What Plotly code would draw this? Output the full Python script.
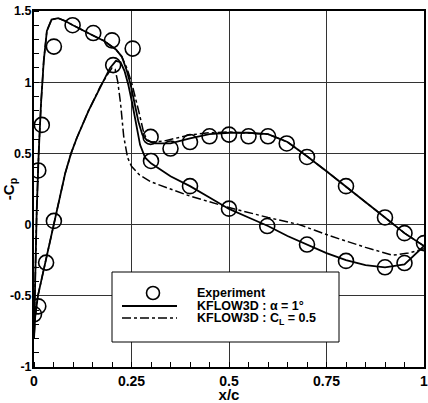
import plotly.graph_objects as go

# Experiment (upper and lower surface)
exp_x_upper = [0.011, 0.02, 0.051, 0.099, 0.152, 0.20, 0.253, 0.299, 0.35, 0.40, 0.45, 0.50, 0.55, 0.60, 0.648, 0.70, 0.80, 0.90, 0.95, 1.0]
exp_y_upper = [0.38, 0.70, 1.25, 1.40, 1.345, 1.294, 1.236, 0.616, 0.534, 0.58, 0.62, 0.632, 0.62, 0.62, 0.57, 0.475, 0.27, 0.05, -0.06, -0.13]
exp_x_lower = [0.0, 0.011, 0.031, 0.051, 0.203, 0.30, 0.40, 0.50, 0.598, 0.70, 0.80, 0.90, 0.95]
exp_y_lower = [-0.63, -0.574, -0.267, 0.026, 1.12, 0.447, 0.27, 0.112, -0.01, -0.14, -0.255, -0.30, -0.27]

# KFLOW3D alpha = 1 deg (solid)
a1_x = [1.0, 0.95, 0.9, 0.85, 0.8, 0.75, 0.7, 0.65, 0.6, 0.55, 0.5, 0.45, 0.4, 0.35, 0.31, 0.29, 0.278, 0.268, 0.258, 0.248, 0.238, 0.225, 0.21, 0.18, 0.15, 0.12, 0.1, 0.08, 0.062, 0.045, 0.033, 0.025, 0.018, 0.012, 0.007, 0.003, 0.0,
        0.003, 0.01, 0.03, 0.05, 0.065, 0.08, 0.095, 0.11, 0.14, 0.17, 0.195, 0.21, 0.222, 0.232, 0.242, 0.252, 0.262, 0.272, 0.285, 0.3, 0.35, 0.4, 0.45, 0.5, 0.55, 0.6, 0.65, 0.7, 0.75, 0.8, 0.85, 0.9, 0.95, 1.0]
a1_y = [-0.15, -0.06, 0.05, 0.16, 0.27, 0.375, 0.48, 0.58, 0.635, 0.645, 0.645, 0.635, 0.605, 0.57, 0.57, 0.59, 0.63, 0.72, 0.85, 0.98, 1.08, 1.18, 1.23, 1.29, 1.33, 1.37, 1.40, 1.43, 1.45, 1.44, 1.36, 1.15, 0.85, 0.5, 0.1, -0.4, -0.8,
        -0.65, -0.5, -0.25, 0.0, 0.19, 0.36, 0.5, 0.61, 0.8, 0.97, 1.1, 1.15, 1.14, 1.08, 0.98, 0.85, 0.7, 0.56, 0.47, 0.43, 0.34, 0.27, 0.19, 0.11, 0.05, -0.01, -0.08, -0.14, -0.2, -0.25, -0.285, -0.3, -0.28, -0.15]

# KFLOW3D CL = 0.5 (dash-dot)
cl_x = [1.0, 0.95, 0.9, 0.85, 0.8, 0.75, 0.7, 0.65, 0.6, 0.55, 0.5, 0.45, 0.4, 0.33, 0.3, 0.288, 0.28, 0.27, 0.26, 0.25, 0.238, 0.225, 0.21, 0.18, 0.15, 0.12, 0.1, 0.08, 0.062, 0.045, 0.033, 0.025, 0.018, 0.012, 0.007, 0.003, 0.0,
        0.003, 0.01, 0.03, 0.05, 0.065, 0.08, 0.095, 0.11, 0.14, 0.17, 0.19, 0.2, 0.208, 0.215, 0.222, 0.23, 0.24, 0.25, 0.27, 0.3, 0.35, 0.4, 0.45, 0.5, 0.6, 0.68, 0.72, 0.76, 0.85, 0.92, 0.96, 1.0]
cl_y = [-0.15, -0.06, 0.05, 0.16, 0.27, 0.375, 0.48, 0.58, 0.635, 0.645, 0.65, 0.645, 0.63, 0.585, 0.58, 0.6, 0.66, 0.78, 0.9, 1.0, 1.1, 1.18, 1.23, 1.29, 1.33, 1.37, 1.40, 1.43, 1.45, 1.44, 1.36, 1.15, 0.85, 0.5, 0.1, -0.4, -0.8,
        -0.65, -0.5, -0.25, 0.0, 0.19, 0.36, 0.5, 0.61, 0.8, 0.97, 1.06, 1.1, 1.09, 1.0, 0.85, 0.62, 0.47, 0.41, 0.35, 0.30, 0.25, 0.2, 0.16, 0.12, 0.05, 0.0, -0.04, -0.08, -0.16, -0.215, -0.2, -0.17]

x_ticks = [0, 0.25, 0.5, 0.75, 1]
x_tick_text = ["0", "0.25", "0.5", "0.75", "1"]
y_ticks = [-1, -0.5, 0, 0.5, 1, 1.5]
y_tick_text = ["-1", "-0.5", "0", "0.5", "1", "1.5"]
legend_labels = ["Experiment", "KFLOW3D : α = 1°", "KFLOW3D : C<sub>L</sub> = 0.5"]

FONT = "Liberation Sans, Arial, sans-serif"

fig = go.Figure()
fig.add_trace(go.Scatter(
    x=exp_x_upper + exp_x_lower, y=exp_y_upper + exp_y_lower, mode="markers",
    name=legend_labels[0], showlegend=False,
    marker=dict(symbol="circle-open", size=15, color="black", line=dict(width=1.6, color="black")),
))
fig.add_trace(go.Scatter(
    x=a1_x, y=a1_y, mode="lines", name=legend_labels[1], showlegend=False,
    line=dict(color="black", width=1.8, dash="solid"),
))
fig.add_trace(go.Scatter(
    x=cl_x, y=cl_y, mode="lines", name=legend_labels[2], showlegend=False,
    line=dict(color="black", width=1.5, dash="dashdot"),
))

axis_common = dict(
    showline=True, linecolor="black", linewidth=2, mirror=True,
    showgrid=True, gridcolor="#333333", gridwidth=1,
    zeroline=False, ticks="", automargin=False, ticklabeloverflow="allow",
)

fig.update_xaxes(
    range=[0, 1], tickvals=x_ticks, ticktext=x_tick_text, **axis_common,
    tickfont=dict(family=FONT, size=14, color="black", weight="bold"),
    minor=dict(dtick=0.05, tick0=0, ticks="inside", ticklen=5, tickcolor="black", showgrid=False),
    title=dict(text="x/c", font=dict(family=FONT, size=15, color="black", weight="bold"), standoff=3),
)
fig.update_yaxes(
    range=[-1, 1.5], tickvals=y_ticks, ticktext=y_tick_text, **axis_common,
    tickfont=dict(family=FONT, size=12.5, color="black", weight="bold"),
    ticklabelstandoff=-2,
    minor=dict(dtick=0.1, tick0=0, ticks="inside", ticklen=5, tickcolor="black", showgrid=False),
    title=dict(text="-C<sub>p</sub>", font=dict(family=FONT, size=15, color="black", weight="bold"), standoff=0),
)

# manual legend (paper coordinates; plot area spans pixels x 34..424, y 11..367)
def px(xp):
    return (xp - 34) / 390.0

def py(yp):
    return (367 - yp) / 356.0

shapes = [
    dict(type="rect", xref="paper", yref="paper", x0=px(112), x1=px(339), y0=py(342), y1=py(272),
         line=dict(color="black", width=1), fillcolor="white", layer="above"),
    dict(type="circle", xref="paper", yref="paper", x0=px(146.5), x1=px(159.5), y0=py(299.5), y1=py(286.5),
         line=dict(color="black", width=1.6), layer="above"),
    dict(type="line", xref="paper", yref="paper", x0=px(122), x1=px(177), y0=py(306), y1=py(306),
         line=dict(color="black", width=1.8), layer="above"),
    dict(type="line", xref="paper", yref="paper", x0=px(122), x1=px(177), y0=py(318), y1=py(318),
         line=dict(color="black", width=1.5, dash="dashdot"), layer="above"),
]
annotations = []
for label, ypix in zip(legend_labels, [293, 306, 319]):
    annotations.append(dict(
        text=label, xref="paper", yref="paper", x=px(195), y=py(ypix),
        xanchor="left", yanchor="middle", showarrow=False,
        font=dict(family=FONT, size=12.5, color="black", weight="bold"),
    ))

fig.update_layout(
    width=428, height=403,
    margin=dict(l=34, r=4, t=11, b=36),
    paper_bgcolor="white", plot_bgcolor="white",
    showlegend=False,
    shapes=shapes, annotations=annotations,
)

fig.write_html("out.html")
